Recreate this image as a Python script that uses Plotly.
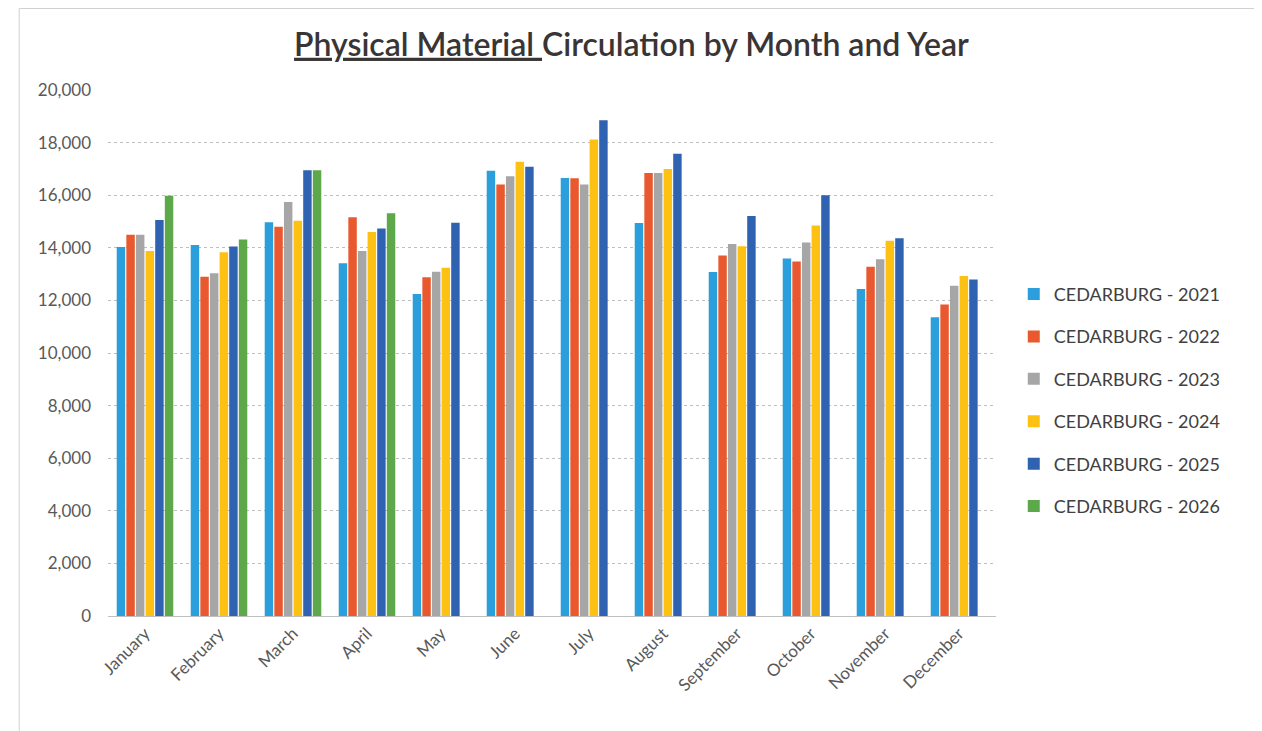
import plotly.graph_objects as go

months = ["January", "February", "March", "April", "May", "June", "July",
          "August", "September", "October", "November", "December"]

y2021 = [14030, 14110, 14970, 13410, 12240, 16930, 16650, 14940, 13080, 13590, 12430, 11360]
y2022 = [14500, 12900, 14800, 15160, 12880, 16410, 16640, 16840, 13710, 13480, 13280, 11840]
y2023 = [14500, 13030, 15740, 13880, 13090, 16720, 16410, 16840, 14140, 14200, 13560, 12560]
y2024 = [13880, 13830, 15030, 14600, 13240, 17270, 18120, 17000, 14060, 14850, 14270, 12930]
y2025 = [15060, 14050, 16950, 14730, 14950, 17080, 18850, 17580, 15210, 16000, 14360, 12790]
y2026 = [15980, 14320, 16950, 15310, None, None, None, None, None, None, None, None]

series_names = ["CEDARBURG - 2021", "CEDARBURG - 2022", "CEDARBURG - 2023",
                "CEDARBURG - 2024", "CEDARBURG - 2025", "CEDARBURG - 2026"]
series_values = [y2021, y2022, y2023, y2024, y2025, y2026]
colors = ["#2A9FDC", "#E9582E", "#A6A6A6", "#FCC112", "#2F62B0", "#5DA84A"]

fig = go.Figure()
for i, (name, vals, col) in enumerate(zip(series_names, series_values, colors)):
    fig.add_trace(go.Bar(
        x=months, y=vals, name=name, marker_color=col,
        marker_line_width=0, legendgroup=str(i)))

font_main = "Lato, 'Open Sans', sans-serif"
fig.update_layout(
    width=1262, height=731,
    paper_bgcolor="white", plot_bgcolor="white",
    margin=dict(l=100, r=274, t=82, b=123),
    barmode="group", bargap=0.22, bargroupgap=0.12,
    title=dict(text="<u>Physical Material </u>Circulation by Month and Year",
               x=0.494, xref="container", xanchor="center", y=0.95, yanchor="middle",
               font=dict(family=font_main, size=32, color="#3A3535", weight=600)),
    legend=dict(x=1.02, xanchor="left", y=0.41, yanchor="middle",
                font=dict(family=font_main, size=18, color="#404040"),
                tracegroupgap=16, itemwidth=30),
    font=dict(family=font_main, color="#595959"),
)
fig.update_yaxes(range=[0, 20000], dtick=2000, tickformat=",",
                 showgrid=True, gridcolor="#BFBFBF", griddash="dot", gridwidth=1,
                 zeroline=False, showline=False, ticks="", ticklabelstandoff=16,
                 tickfont=dict(size=17, color="#595959"))
fig.update_xaxes(tickangle=-45, showline=True, linecolor="#BFBFBF", ticks="",
                 tickfont=dict(size=17, color="#595959"))
fig.add_shape(type="rect", xref="paper", yref="paper",
              x0=-0.1, x1=1.297, y0=-0.225, y1=1.155,
              line=dict(color="#D0D0D0", width=1), layer="below")

fig.write_html("out.html")
